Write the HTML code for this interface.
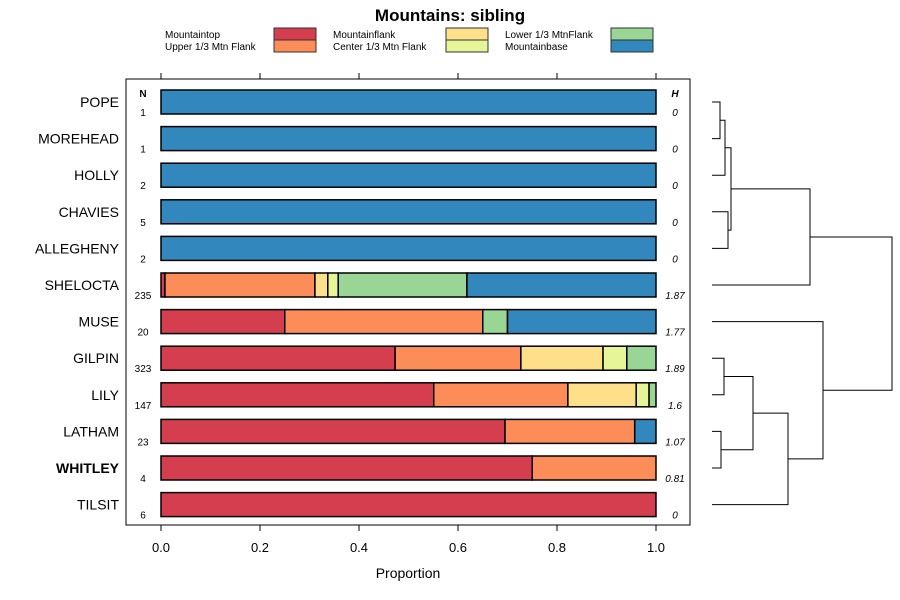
<!DOCTYPE html>
<html><head><meta charset="utf-8"><style>
body{margin:0;background:#fff}
svg{display:block;font-family:"Liberation Sans",sans-serif}
</style></head><body>
<svg id="chart" width="900" height="600" xmlns="http://www.w3.org/2000/svg">
<text x="450" y="21" text-anchor="middle" font-size="17" font-weight="bold">Mountains: sibling</text>
<g id="legend"></g>
<rect x="126" y="79" width="564" height="446" fill="none" stroke="#000" stroke-width="1"/>
<g id="bars"></g>
<g id="axis"></g>
<g id="dendro" stroke="#000" fill="none" stroke-width="1"></g>
<text x="408" y="578" text-anchor="middle" font-size="14">Proportion</text>
<text x="143" y="97" text-anchor="middle" font-size="10" font-weight="bold">N</text>
<text x="675" y="97" text-anchor="middle" font-size="10" font-weight="bold" font-style="italic">H</text>
</svg>
<script>
const categories=["POPE","MOREHEAD","HOLLY","CHAVIES","ALLEGHENY","SHELOCTA","MUSE","GILPIN","LILY","LATHAM","WHITLEY","TILSIT"];
const nValues=[1,1,2,5,2,235,20,323,147,23,4,6];
const hValues=["0","0","0","0","0","1.87","1.77","1.89","1.6","1.07","0.81","0"];
const seriesNames=["Mountaintop","Upper 1/3 Mtn Flank","Mountainflank","Center 1/3 Mtn Flank","Lower 1/3 MtnFlank","Mountainbase"];
const seriesColors=["#d53e4f","#fc8d59","#fee08b","#e6f598","#99d594","#3288bd"];
const mountaintop=[0,0,0,0,0,0.008,0.25,0.473,0.551,0.695,0.75,1];
const upperFlank=[0,0,0,0,0,0.303,0.40,0.254,0.271,0.262,0.25,0];
const mountainflank=[0,0,0,0,0,0.026,0,0.166,0.138,0,0,0];
const centerFlank=[0,0,0,0,0,0.021,0,0.048,0.026,0,0,0];
const lowerFlank=[0,0,0,0,0,0.260,0.05,0.059,0.014,0,0,0];
const mountainbase=[1,1,1,1,1,0.382,0.30,0,0,0.043,0,0];
const xTicks=[0,0.2,0.4,0.6,0.8,1];
const xTickLabels=["0.0","0.2","0.4","0.6","0.8","1.0"];
// dendrogram merges: [leftNode,rightNode,height]; leaves are 0..11, merges are 12+
const merges=[[0,1,8],[12,2,13],[3,4,16],[13,14,19],[15,5,98],[7,8,12],[9,10,9],[17,18,41],[19,11,76],[6,20,111],[16,21,180]];

const NS="http://www.w3.org/2000/svg";
const series=[mountaintop,upperFlank,mountainflank,centerFlank,lowerFlank,mountainbase];
const x=v=>161+v*495;
const y=i=>102+i*36.6;
function el(tag,attrs,parent,txt){const e=document.createElementNS(NS,tag);for(const k in attrs)e.setAttribute(k,attrs[k]);if(txt!=null)e.textContent=txt;parent.appendChild(e);return e;}
const bars=document.getElementById('bars'),axis=document.getElementById('axis'),legend=document.getElementById('legend'),dendro=document.getElementById('dendro');
categories.forEach((c,i)=>{
  const lab=el('text',{x:119,y:y(i)+5,'text-anchor':'end','font-size':14,'font-weight':c==="WHITLEY"?'bold':'normal'},axis,c);
  
  
  const nt=el('text',{x:143,y:y(i)+14,'text-anchor':'middle','font-size':10},axis,nValues[i]);
  
  
  const ht=el('text',{x:675,y:y(i)+14,'text-anchor':'middle','font-size':10,'font-style':'italic'},axis,hValues[i]);
  
  
  let cum=0;
  series.forEach((s,k)=>{
    const v=s[i]; if(v<=0)return;
    const r=el('rect',{x:x(cum),y:y(i)-12,width:x(cum+v)-x(cum),height:24,fill:seriesColors[k],stroke:'#000','stroke-width':1.5},bars);
    
    
    cum+=v;
  });
});
xTicks.forEach((t,i)=>{
  el('line',{x1:x(t),x2:x(t),y1:525,y2:531,stroke:'#000'},axis);
  el('line',{x1:x(t),x2:x(t),y1:73,y2:79,stroke:'#000'},axis);
  const tl=el('text',{x:x(t),y:552,'text-anchor':'middle','font-size':13},axis,xTickLabels[i]);
  
  
});
const lx=[165,333,505],bx=[274,446,611];
seriesNames.forEach((n,k)=>{
  const col=Math.floor(k/2),row=k%2;
  const t=el('text',{x:lx[col],y:38+row*12,'font-size':10},legend,n);
  
  
  const r=el('rect',{x:bx[col],y:28+row*12,width:42,height:12,fill:seriesColors[k],stroke:'#333','stroke-width':1},legend);
  
  
});
const nodes=categories.map((c,i)=>({y:y(i),h:0}));
const x0=712;
merges.forEach(m=>{
  const a=nodes[m[0]],b=nodes[m[1]],hx=x0+m[2];
  el('path',{d:`M${x0+a.h},${a.y}H${hx}V${b.y}H${x0+b.h}`},dendro);
  nodes.push({y:(a.y+b.y)/2,h:m[2]});
});
</script>
</body></html>
